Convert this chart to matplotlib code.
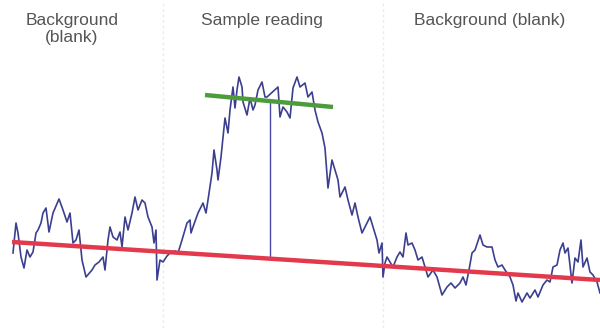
import numpy as np
import matplotlib.pyplot as plt

# trace: time, signal
time = [13, 16, 18, 21, 24, 27, 30, 33, 36, 38, 41, 43, 46, 49, 53, 59, 63, 67, 70, 73,
        76, 79, 82, 86, 92, 95, 99, 103, 105, 108, 110, 113, 117, 120, 122, 125, 128, 132,
        135, 138, 142, 145, 148, 152, 154, 156, 157, 160, 163, 167, 170, 175, 178, 182,
        187, 190, 191, 193, 198, 203, 206, 208, 212, 214, 217, 218, 221, 223, 225, 228,
        230, 233, 235, 237, 239, 242, 243, 247, 250, 253, 255, 258, 262, 265, 267, 278,
        280, 283, 287, 290, 293, 297, 300, 305, 308, 312, 315, 318, 322, 325, 328, 332,
        335, 338, 340, 345, 348, 352, 355, 358, 362, 367, 370, 373, 377, 379, 382, 383,
        385, 387, 390, 393, 397, 400, 403, 406, 408, 412, 415, 418, 422, 425, 428, 433,
        437, 442, 447, 451, 455, 460, 463, 466, 469, 472, 475, 480, 483, 487, 492, 495,
        498, 502, 505, 510, 513, 516, 518, 522, 527, 530, 535, 538, 543, 547, 550, 553,
        557, 560, 563, 565, 568, 572, 575, 578, 581, 583, 587, 590, 593, 597, 600]
depth = [253, 223, 233, 257, 268, 250, 257, 252, 233, 230, 223, 213, 208, 232, 213, 199,
         210, 222, 213, 243, 240, 230, 260, 277, 270, 265, 262, 257, 270, 240, 227, 237,
         240, 232, 247, 217, 230, 213, 197, 210, 200, 203, 217, 227, 243, 230, 280, 260,
         262, 256, 253, 251, 253, 240, 223, 220, 233, 227, 213, 203, 213, 200, 173, 150,
         170, 180, 157, 137, 118, 133, 110, 87, 108, 90, 77, 87, 102, 115, 98, 110, 105,
         90, 82, 97, 97, 87, 117, 107, 112, 118, 88, 77, 87, 83, 97, 92, 110, 122, 133,
         148, 188, 160, 170, 180, 197, 187, 200, 215, 203, 217, 233, 223, 217, 227, 240,
         253, 243, 277, 263, 257, 262, 267, 257, 252, 257, 233, 245, 243, 250, 260, 257,
         267, 277, 270, 277, 295, 287, 283, 288, 283, 277, 285, 270, 253, 250, 235, 245,
         247, 247, 260, 267, 265, 270, 277, 285, 301, 293, 302, 293, 298, 290, 297, 285,
         280, 282, 267, 265, 250, 243, 253, 248, 283, 258, 262, 240, 267, 258, 272, 275,
         282, 293]
signal = [328 - d for d in depth]

baseline_t = [12, 600]
baseline_v = [86, 48]
plateau_t = [205, 333]
plateau_v = [233, 221]
read_t = 270
region_edges = [163, 383]

labels = ["Background\n(blank)", "Sample reading", "Background (blank)"]
label_t = [72, 262, 490]

fig = plt.figure(figsize=(6, 3.28), dpi=100)
ax = fig.add_axes([0, 0, 1, 1])
ax.set_xlim(0, 600)
ax.set_ylim(0, 328)
ax.axis('off')

for e in region_edges:
    ax.axvline(e, color='#e2edf7', lw=1, ls=(0, (2, 2)), zorder=0)

ax.plot(time, signal, color='#3c3f8f', lw=1.2, zorder=2)

ax.plot(baseline_t, baseline_v, color='#e23a4c', lw=3.2, solid_capstyle='butt', zorder=3)
ax.plot(plateau_t, plateau_v, color='#4c9c3c', lw=3.2, solid_capstyle='butt', zorder=3)

b = np.interp(read_t, baseline_t, baseline_v)
p = np.interp(read_t, plateau_t, plateau_v)
ax.plot([read_t, read_t], [b, p], color='#4a4aa8', lw=1.0, zorder=2)

for txt, t in zip(labels, label_t):
    ax.text(t, 315, txt, ha='center', va='top', fontsize=12.5, color='#555555',
            family='Liberation Sans', linespacing=1.15)

fig.savefig('out.png', dpi=100)
